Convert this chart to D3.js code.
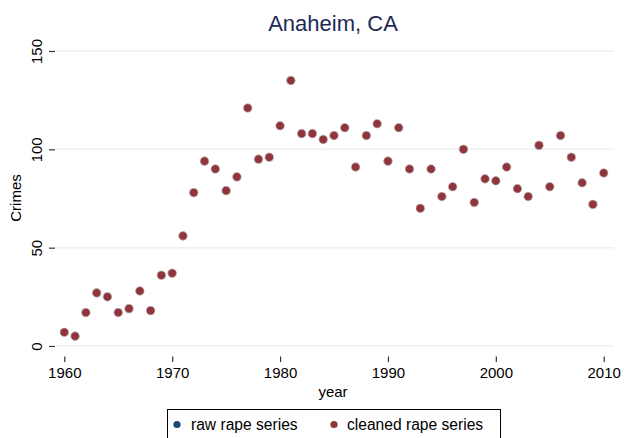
<!DOCTYPE html>
<html><head><meta charset="utf-8">
<script src="https://cdn.jsdelivr.net/npm/d3@7"></script>
<style>body{margin:0;background:#fff}svg{display:block;font-family:"Liberation Sans",Arial,sans-serif}</style>
</head><body><svg id="c" width="625" height="438"></svg>
<script>
const years = d3.range(1960, 2011);
const rawRape = [7,5,17,27,25,17,19,28,18,36,37,56,78,94,90,79,86,121,95,96,112,135,108,108,105,107,111,91,107,113,94,111,90,70,90,76,81,100,73,85,84,91,80,76,102,81,107,96,83,72,88];
const cleanedRape = [7,5,17,27,25,17,19,28,18,36,37,56,78,94,90,79,86,121,95,96,112,135,108,108,105,107,111,91,107,113,94,111,90,70,90,76,81,100,73,85,84,91,80,76,102,81,107,96,83,72,88];
const yTicks = [0,50,100,150];
const xTicks = [1960,1970,1980,1990,2000,2010];
const seriesNames = ["raw rape series","cleaned rape series"];
const seriesColors = ["#1a476f","#90353b"];

const svg = d3.select("#c");
const x = d3.scaleLinear().domain([1960,2010]).range([64.3,603.7]);
const y = d3.scaleLinear().domain([0,150]).range([346,51]);

// gridlines
svg.append("g").selectAll("line").data(yTicks).join("line")
  .attr("x1",55).attr("x2",614).attr("y1",d=>y(d)).attr("y2",d=>y(d))
  .attr("stroke","#eaf2f3").attr("stroke-width",1.5);

// y axis
const ya = svg.append("g").attr("transform","translate(55,0)")
  .call(d3.axisLeft(y).tickValues(yTicks).tickSize(6).tickPadding(0).tickFormat(d3.format("d")));
ya.select(".domain").remove();
ya.selectAll(".tick line").attr("stroke","#333").attr("stroke-width",1.2);
ya.selectAll(".tick text").attr("font-size",15).attr("fill","#000")
  .attr("text-anchor","middle").attr("dy",null).attr("x",null)
  .attr("transform","translate(-13,0) rotate(-90)");

// x axis
const xa = svg.append("g").attr("transform","translate(0,356.5)")
  .call(d3.axisBottom(x).tickValues(xTicks).tickSize(5.5).tickPadding(0).tickFormat(d3.format("d")));
xa.select(".domain").remove();
xa.selectAll(".tick line").attr("stroke","#333").attr("stroke-width",1.2);
xa.selectAll(".tick text").attr("font-size",15).attr("fill","#000").attr("dy",null).attr("y",21.5);

// titles
svg.append("text").attr("x",333).attr("y",31).attr("text-anchor","middle")
  .attr("font-size",22).attr("fill","#1e2a55").text("Anaheim, CA");
svg.append("text").attr("x",333).attr("y",397).attr("text-anchor","middle")
  .attr("font-size",15).attr("fill","#000").text("year");
svg.append("text").attr("transform","translate(21,198) rotate(-90)").attr("text-anchor","middle")
  .attr("font-size",15).attr("fill","#000").text("Crimes");

// points
const series = [rawRape, cleanedRape];
series.forEach((vals,i)=>{
  svg.append("g").selectAll("circle").data(vals).join("circle")
    .attr("cx",(d,j)=>x(years[j])).attr("cy",d=>y(d)).attr("r",4.3)
    .attr("fill",seriesColors[i]).attr("stroke","#d8d8d8").attr("stroke-width",0.6);
});

// legend
svg.append("rect").attr("x",167.5).attr("y",409.5).attr("width",333).attr("height",40)
  .attr("fill","#fff").attr("stroke","#000").attr("stroke-width",1);
const lx = [177,334], tx = [191,347];
seriesNames.forEach((n,i)=>{
  svg.append("circle").attr("cx",lx[i]).attr("cy",424.5).attr("r",3.6).attr("fill",seriesColors[i]);
  svg.append("text").attr("x",tx[i]).attr("y",430).attr("font-size",15.6).attr("fill","#000").text(n);
});
</script></body></html>
